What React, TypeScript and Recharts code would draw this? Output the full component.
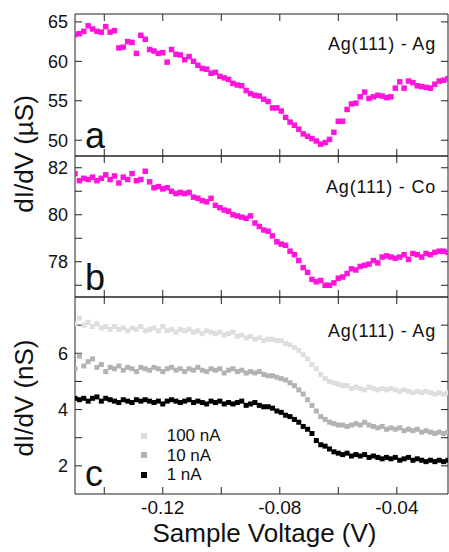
import { ScatterChart, Scatter, XAxis, YAxis, Legend } from "recharts"

// bias sweep: -0.150 V, 1.5 mV steps
const V_START = -0.15
const V_STEP = 0.0015

// panel a: Ag(111) - Ag, dI/dV in uS
const agAg = [
  63.4, 63.5, 63.8, 64.5, 64.1, 63.8, 63.7, 64.4, 63.7, 63.9, 61.7, 61.8, 62.5, 62.4, 61.0, 63.3, 62.8, 61.5,
  61.3, 61.0, 61.1, 59.9, 61.5, 60.9, 60.8, 60.2, 60.6, 60.0, 59.5, 59.1, 59.0, 58.5, 58.6, 58.1, 57.9, 57.7,
  57.2, 57.0, 56.9, 56.3, 55.9, 55.7, 55.6, 55.2, 54.9, 54.1, 54.1, 53.7, 52.9, 52.3, 51.9, 51.4, 50.8, 50.5,
  50.2, 49.9, 49.5, 49.7, 50.1, 51.0, 52.4, 52.4, 53.9, 54.6, 54.7, 55.5, 56.1, 55.3, 55.5, 55.7, 55.6, 55.4,
  55.5, 56.6, 57.4, 56.6, 57.5, 57.3, 56.9, 56.8, 56.7, 56.6, 57.1, 57.5, 57.6, 57.8,
]

// panel b: Ag(111) - Co, dI/dV in uS
const agCo = [
  81.75, 81.45, 81.55, 81.5, 81.6, 81.45, 81.55, 81.7, 81.5, 81.65, 81.35, 81.6, 81.5, 81.75, 81.45, 81.5,
  81.85, 81.4, 81.15, 81.2, 81.1, 81.15, 81.0, 80.9, 80.95, 80.9, 80.95, 80.75, 80.7, 80.6, 80.55, 80.7, 80.4,
  80.3, 80.2, 80.15, 80.0, 79.95, 79.9, 79.85, 79.95, 79.65, 79.5, 79.35, 79.3, 79.1, 78.85, 78.75, 78.7,
  78.45, 78.3, 78.05, 77.75, 77.55, 77.25, 77.15, 77.2, 77.0, 77.0, 77.1, 77.3, 77.35, 77.5, 77.7, 77.65,
  77.8, 77.85, 77.9, 78.05, 77.95, 78.2, 78.25, 78.2, 78.15, 78.2, 78.3, 78.1, 78.35, 78.3, 78.2, 78.35, 78.3,
  78.4, 78.45, 78.45, 78.4,
]

// panel c: Ag(111) - Ag at three setpoint currents, dI/dV in nS
const nA100 = [
  7.05, 7.25, 7.0, 7.1, 6.95, 7.05, 6.9, 6.95, 6.85, 6.95, 6.85, 6.9, 6.8, 6.9, 6.85, 6.95, 6.8, 6.85, 6.9,
  6.8, 6.95, 6.8, 6.85, 6.75, 6.85, 6.8, 6.85, 6.75, 6.8, 6.7, 6.8, 6.75, 6.7, 6.75, 6.65, 6.7, 6.75, 6.6,
  6.65, 6.55, 6.6, 6.5, 6.55, 6.45, 6.5, 6.5, 6.45, 6.45, 6.35, 6.3, 6.2, 6.1, 5.95, 5.8, 5.6, 5.45, 5.25,
  5.1, 5.0, 4.95, 4.9, 4.85, 4.85, 4.75, 4.8, 4.75, 4.7, 4.8, 4.75, 4.7, 4.75, 4.7, 4.75, 4.7, 4.65, 4.7,
  4.65, 4.6, 4.65, 4.6, 4.65, 4.6, 4.55, 4.6, 4.55, 4.6,
]
const nA10 = [
  5.45, 5.9, 5.55, 5.7, 5.8, 5.5, 5.6, 5.35, 5.5, 5.45, 5.55, 5.4, 5.5, 5.45, 5.35, 5.5, 5.45, 5.4, 5.5,
  5.45, 5.35, 5.45, 5.5, 5.4, 5.45, 5.35, 5.45, 5.4, 5.5, 5.4, 5.35, 5.45, 5.4, 5.45, 5.3, 5.4, 5.45, 5.35,
  5.4, 5.3, 5.35, 5.3, 5.35, 5.25, 5.2, 5.2, 5.15, 5.1, 5.05, 4.95, 4.85, 4.7, 4.55, 4.35, 4.15, 3.95, 3.75,
  3.65, 3.55, 3.5, 3.45, 3.45, 3.4, 3.45, 3.5, 3.45, 3.55, 3.45, 3.4, 3.35, 3.4, 3.3, 3.35, 3.3, 3.35, 3.25,
  3.3, 3.25, 3.3, 3.2, 3.25, 3.2, 3.15, 3.2, 3.15, 3.2,
]
const nA1 = [
  4.4, 4.35, 4.4, 4.3, 4.4, 4.45, 4.3, 4.4, 4.35, 4.3, 4.25, 4.35, 4.3, 4.25, 4.35, 4.3, 4.35, 4.3, 4.25,
  4.3, 4.2, 4.3, 4.35, 4.3, 4.25, 4.3, 4.35, 4.25, 4.3, 4.25, 4.2, 4.3, 4.25, 4.3, 4.2, 4.25, 4.2, 4.25,
  4.3, 4.15, 4.2, 4.25, 4.15, 4.1, 4.1, 4.05, 3.95, 3.9, 3.8, 3.75, 3.65, 3.55, 3.4, 3.3, 3.15, 2.9, 2.75,
  2.7, 2.6, 2.5, 2.45, 2.4, 2.45, 2.35, 2.4, 2.35, 2.4, 2.3, 2.35, 2.3, 2.25, 2.3, 2.25, 2.3, 2.2, 2.25,
  2.3, 2.2, 2.25, 2.2, 2.15, 2.2, 2.15, 2.2, 2.15, 2.2,
]

const currents = ["100 nA", "10 nA", "1 nA"]
const grays = ["#dedede", "#b3b3b3", "#000000"]

const xTicks = [-0.14, -0.12, -0.1, -0.08, -0.06, -0.04]
const xLabels = [-0.12, -0.08, -0.04]
const X_DOMAIN = [-0.15, -0.0225]

const MAGENTA = "#ff14dc"
const FRAME = "#222"
const FONT = "'Liberation Sans', Arial, Helvetica, sans-serif"
const TICK_PX = 7

const toPoints = (vals: number[]) =>
  vals.map((y, i) => ({ x: Number((V_START + i * V_STEP).toFixed(4)), y }))

const lineStyle = { stroke: FRAME, strokeWidth: 1 }

// square marker of fixed side, centred on the point
const square = (side: number) => (props: any) => {
  const { cx, cy, fill } = props
  return <rect x={cx - side / 2} y={cy - side / 2} width={side} height={side} fill={fill} />
}

// short inward tick (a thin filled bar) starting from a point on the frame
const tickShape = (side: "b" | "t" | "l" | "r") => (props: any) => {
  const { cx, cy } = props
  if (side === "b") return <rect x={cx - 0.5} y={cy - TICK_PX} width={1} height={TICK_PX} fill={FRAME} />
  if (side === "t") return <rect x={cx - 0.5} y={cy} width={1} height={TICK_PX} fill={FRAME} />
  if (side === "l") return <rect x={cx} y={cy - 0.5} width={TICK_PX} height={1} fill={FRAME} />
  return <rect x={cx - TICK_PX} y={cy - 0.5} width={TICK_PX} height={1} fill={FRAME} />
}

// tick marks on all four sides, placed through the chart's own scales
function TickMarks(domain: number[], yTicks: number[]) {
  const [y0, y1] = domain
  const [x0, x1] = X_DOMAIN
  const sets = [
    { key: "tb", data: xTicks.map((x) => ({ x, y: y0 })), shape: tickShape("b") },
    { key: "tt", data: xTicks.map((x) => ({ x, y: y1 })), shape: tickShape("t") },
    { key: "tl", data: yTicks.map((y) => ({ x: x0, y })), shape: tickShape("l") },
    { key: "tr", data: yTicks.map((y) => ({ x: x1, y })), shape: tickShape("r") },
  ]
  return sets.map((s) => (
    <Scatter
      key={s.key}
      data={s.data}
      xAxisId="b"
      yAxisId="l"
      fill={FRAME}
      shape={s.shape}
      legendType="none"
      isAnimationActive={false}
    />
  ))
}

// four-sided frame: labelled left/bottom axes, bare top/right axes
function Frame({
  domain,
  ticks,
  fmt,
  bottomLabels,
}: {
  domain: number[]
  ticks: number[]
  fmt: (v: number) => string
  bottomLabels?: boolean
}) {
  const xFmt = (v: number) => (xLabels.some((t) => Math.abs(t - v) < 1e-6) ? String(v) : "")
  const common = { type: "number" as const, interval: 0 as const, allowDataOverflow: true }
  return [
    <XAxis
      key="xb"
      xAxisId="b"
      {...common}
      dataKey="x"
      domain={X_DOMAIN}
      ticks={bottomLabels ? xLabels : xTicks}
      height={bottomLabels ? 58 : 1}
      tickSize={0}
      tickMargin={7}
      axisLine={lineStyle}
      tickLine={false}
      tick={bottomLabels ? { fill: "#111", fontSize: 19, fontFamily: FONT } : false}
      tickFormatter={xFmt}
      label={
        bottomLabels
          ? {
              value: "Sample Voltage (V)",
              position: "insideBottom",
              offset: 10,
              dx: 3,
              style: { fontSize: 26, fontFamily: FONT, fill: "#111" },
            }
          : undefined
      }
    />,
    <XAxis
      key="xt"
      xAxisId="t"
      orientation="top"
      {...common}
      domain={X_DOMAIN}
      ticks={xTicks}
      height={1}
      axisLine={lineStyle}
      tickLine={false}
      tick={false}
    />,
    <YAxis
      key="yl"
      yAxisId="l"
      {...common}
      dataKey="y"
      domain={domain}
      ticks={ticks}
      width={75}
      tickSize={0}
      tickMargin={7}
      axisLine={lineStyle}
      tickLine={false}
      tick={{ fill: "#111", fontSize: 18, fontFamily: FONT }}
      tickFormatter={fmt}
    />,
    <YAxis
      key="yr"
      yAxisId="r"
      orientation="right"
      {...common}
      domain={domain}
      ticks={ticks}
      width={1}
      axisLine={lineStyle}
      tickLine={false}
      tick={false}
    />,
    ...TickMarks(domain, ticks),
  ]
}

function CurrentLegend() {
  return (
    <div style={{ fontFamily: FONT, fontSize: 17, color: "#111" }}>
      {currents.map((c, i) => (
        <div key={c} style={{ display: "flex", alignItems: "center", height: 19.6 }}>
          <span style={{ width: 6, height: 6, marginLeft: 1, background: grays[i], display: "inline-block" }} />
          <span style={{ marginLeft: 19.7, lineHeight: "19.6px" }}>{c}</span>
        </div>
      ))}
    </div>
  )
}

export default function App() {
  const even = (v: number) => (v % 2 === 0 ? String(v) : "")
  const cSeries = [nA100, nA10, nA1]

  return (
    <div style={{ position: "absolute", left: 0, top: 0, width: 449, height: 552, background: "#fff" }}>
      <div style={{ position: "absolute", left: 0, top: 0 }}>
        <ScatterChart width={449} height={160} margin={{ top: 13, right: 0, bottom: 3, left: 0 }}>
          {Frame({ domain: [48, 66], ticks: [50, 55, 60, 65], fmt: (v) => String(v) })}
          <Scatter
            data={toPoints(agAg)}
            xAxisId="b"
            yAxisId="l"
            fill={MAGENTA}
            shape={square(5.5)}
            isAnimationActive={false}
          />
        </ScatterChart>
      </div>

      <div style={{ position: "absolute", left: 0, top: 155 }}>
        <ScatterChart width={449} height={146} margin={{ top: 0, right: 0, bottom: 3, left: 0 }}>
          {Frame({ domain: [76.5, 82.5], ticks: [77, 78, 79, 80, 81, 82], fmt: even })}
          <Scatter
            data={toPoints(agCo)}
            xAxisId="b"
            yAxisId="l"
            fill={MAGENTA}
            shape={square(5.5)}
            isAnimationActive={false}
          />
        </ScatterChart>
      </div>

      <div style={{ position: "absolute", left: 0, top: 296 }}>
        <ScatterChart width={449} height={256} margin={{ top: 0, right: 0, bottom: 0, left: 0 }}>
          {Frame({ domain: [1, 8], ticks: [2, 3, 4, 5, 6, 7], fmt: even, bottomLabels: true })}
          {cSeries.map((vals, i) => (
            <Scatter
              key={currents[i]}
              name={currents[i]}
              data={toPoints(vals)}
              xAxisId="b"
              yAxisId="l"
              fill={grays[i]}
              shape={square(5)}
              isAnimationActive={false}
            />
          ))}
          <Legend
            layout="horizontal"
            verticalAlign="middle"
            align="center"
            content={() => <CurrentLegend />}
            wrapperStyle={{ left: 140, top: 130, width: "auto" }}
          />
        </ScatterChart>
      </div>

      <svg
        width={449}
        height={552}
        style={{ position: "absolute", left: 0, top: 0, pointerEvents: "none" }}
        fontFamily={FONT}
        fill="#111"
      >
        <text transform="translate(33,154) rotate(-90)" textAnchor="middle" fontSize={26}>
          dI/dV (µS)
        </text>
        <text transform="translate(33,398) rotate(-90)" textAnchor="middle" fontSize={26}>
          dI/dV (nS)
        </text>
        <text x={85} y={148} fontSize={36}>a</text>
        <text x={85} y={290} fontSize={36}>b</text>
        <text x={85} y={486} fontSize={36}>c</text>
        <text x={436} y={50} textAnchor="end" fontSize={18} letterSpacing={0.8}>Ag(111) - Ag</text>
        <text x={436} y={193} textAnchor="end" fontSize={18} letterSpacing={0.8}>Ag(111) - Co</text>
        <text x={436} y={337} textAnchor="end" fontSize={18} letterSpacing={0.8}>Ag(111) - Ag</text>
      </svg>
    </div>
  )
}
